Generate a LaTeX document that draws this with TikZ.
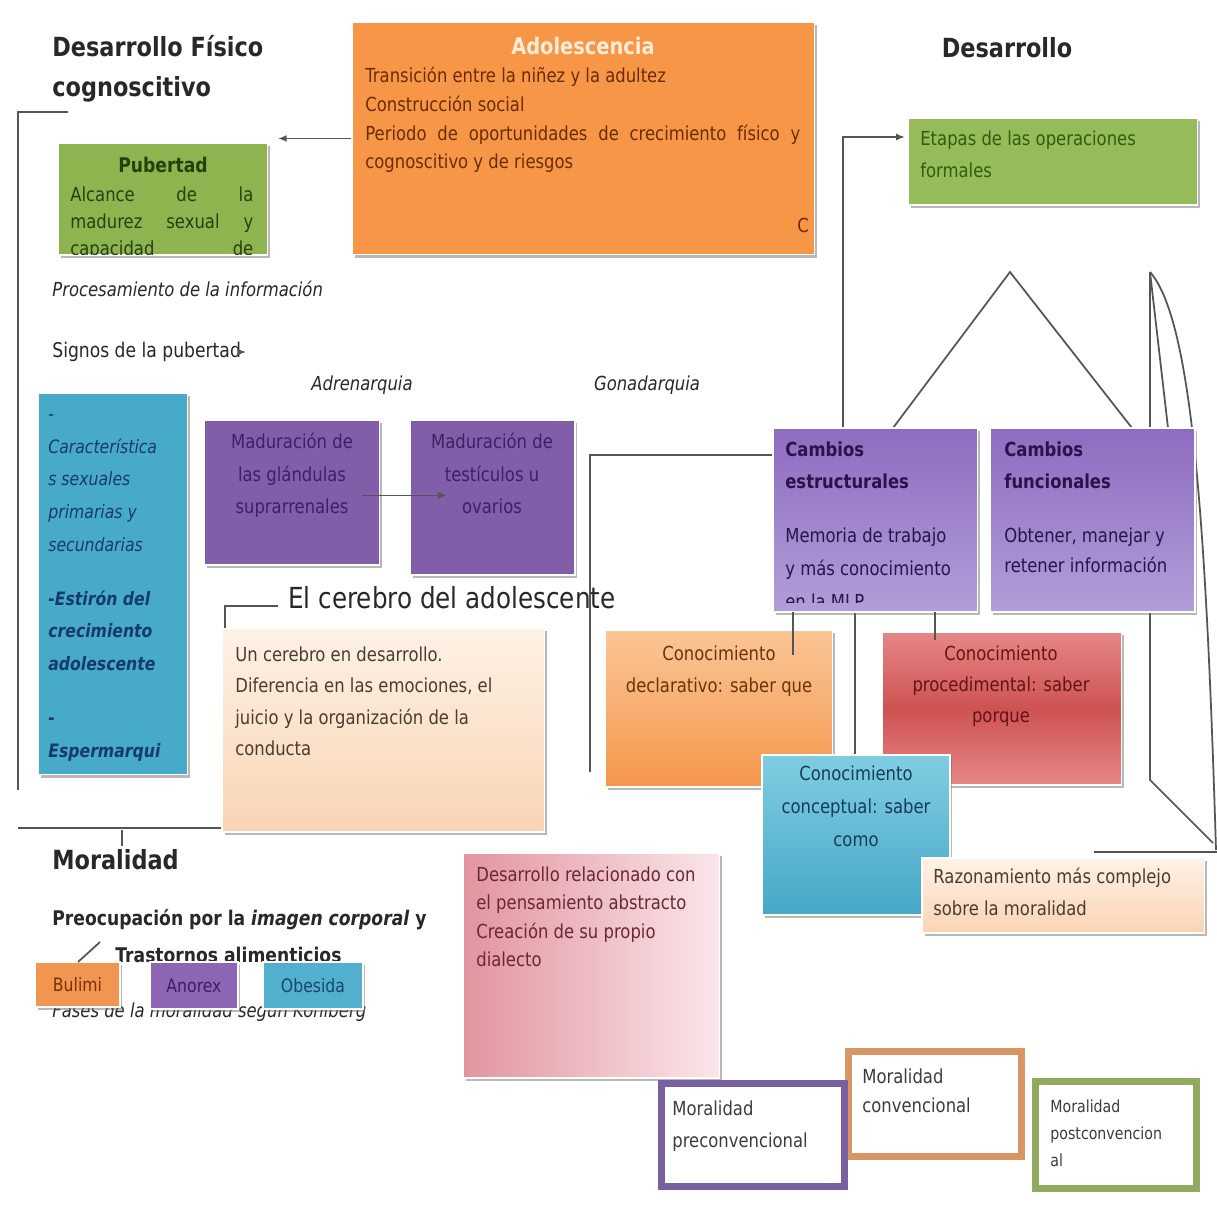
\documentclass[tikz,border=0pt]{standalone}
\usepackage{fontspec}
\setmainfont{DejaVu Sans}[FakeStretch=0.85]
\usetikzlibrary{shadows,arrows.meta,calc,backgrounds}
\definecolor{pubG}{RGB}{142,180,80}
\definecolor{pubT}{RGB}{35,65,10}
\definecolor{adoO}{RGB}{247,150,70}
\definecolor{adoT}{RGB}{105,45,0}
\definecolor{adoW}{RGB}{255,236,214}
\definecolor{etG}{RGB}{150,188,90}
\definecolor{etT}{RGB}{50,92,12}
\definecolor{tealB}{RGB}{70,170,200}
\definecolor{tealT}{RGB}{22,58,108}
\definecolor{madP}{RGB}{128,95,168}
\definecolor{madT}{RGB}{62,32,100}
\definecolor{camP1}{RGB}{140,108,192}
\definecolor{camP2}{RGB}{178,158,216}
\definecolor{camT}{RGB}{40,20,75}
\definecolor{decO1}{RGB}{250,198,150}
\definecolor{decO2}{RGB}{245,150,75}
\definecolor{decT}{RGB}{110,50,10}
\definecolor{procR1}{RGB}{230,135,135}
\definecolor{procR2}{RGB}{206,82,82}
\definecolor{procT}{RGB}{100,20,20}
\definecolor{conB1}{RGB}{128,205,226}
\definecolor{conB2}{RGB}{70,168,198}
\definecolor{conT}{RGB}{20,60,90}
\definecolor{peach1}{RGB}{254,242,230}
\definecolor{peach2}{RGB}{249,212,180}
\definecolor{peachT}{RGB}{75,60,50}
\definecolor{pink1}{RGB}{226,148,158}
\definecolor{pink2}{RGB}{250,230,234}
\definecolor{pinkT}{RGB}{105,40,50}
\definecolor{morP}{RGB}{120,95,160}
\definecolor{morO}{RGB}{215,150,100}
\definecolor{morG}{RGB}{145,170,95}
\definecolor{morT}{RGB}{60,60,60}
\definecolor{bulO}{RGB}{240,150,80}
\definecolor{anoP}{RGB}{140,102,180}
\definecolor{obeB}{RGB}{82,176,205}
\definecolor{lineG}{RGB}{85,85,85}
\definecolor{txtD}{RGB}{40,40,40}
\begin{document}
\begin{tikzpicture}[x=0.02cm,y=-0.02cm,
  bx/.style={rectangle, inner sep=0pt, outer sep=0pt, anchor=north west, draw=white, line width=0.6pt,
    drop shadow={shadow xshift=0.05cm, shadow yshift=-0.06cm, fill=black!55}},
  mor/.style={rectangle, inner sep=0pt, outer sep=0pt, anchor=north west, fill=white, line width=4pt,
    drop shadow={shadow xshift=0.05cm, shadow yshift=-0.06cm, fill=black!35}},
  tx/.style={inner sep=0pt, anchor=north west, align=left, font=\fontsize{11}{18}\selectfont},
  tc/.style={inner sep=0pt, anchor=north, align=center, font=\fontsize{11}{18}\selectfont},
  lbl/.style={inner sep=0pt, font=\fontsize{11}{13}\selectfont},
  ln/.style={draw=lineG, line width=1pt},
  arr/.style={ln, -{Latex[length=5pt,width=4pt]}}]
\useasboundingbox (0,0) rectangle (1217,1205);
\begin{scope}[on background layer]
\fill[white] (0,0) rectangle (1217,1205);
\end{scope}

% ---------- boxes ----------
\node[bx, fill=pubG, minimum width=4.2cm, minimum height=2.24cm] (pub) at (58,143) {};
\node[bx, fill=adoO, minimum width=9.26cm, minimum height=4.66cm] (ado) at (352,22) {};
\node[bx, fill=etG, minimum width=5.8cm, minimum height=1.74cm] (etapas) at (908,118) {};
\node[bx, fill=tealB, minimum width=3cm, minimum height=7.64cm] (teal) at (38,393) {};
\node[bx, fill=madP, minimum width=3.52cm, minimum height=2.9cm] (mad1) at (204,420) {};
\node[bx, fill=madP, minimum width=3.3cm, minimum height=3.1cm] (mad2) at (410,420) {};
\node[bx, top color=peach1, bottom color=peach2, minimum width=6.46cm, minimum height=4.08cm] (peach) at (222,628) {};
\node[bx, top color=camP1, bottom color=camP2, minimum width=4.1cm, minimum height=3.68cm] (cest) at (773,428) {};
\node[bx, top color=camP1, bottom color=camP2, minimum width=4.1cm, minimum height=3.68cm] (cfun) at (990,428) {};
\node[bx, top color=decO1, bottom color=decO2, minimum width=4.56cm, minimum height=3.14cm] (cdec) at (605,630) {};
\node[bx, top color=procR1, bottom color=procR1, middle color=procR2, minimum width=4.8cm, minimum height=3.06cm] (cproc) at (882,632) {};
\node[bx, top color=conB1, bottom color=conB2, minimum width=3.76cm, minimum height=3.2cm] (ccon) at (762,755) {};
\node[bx, top color=peach1, bottom color=peach2, minimum width=5.66cm, minimum height=1.5cm] (razon) at (922,858) {};
\node[bx, left color=pink1, right color=pink2, minimum width=5.14cm, minimum height=4.5cm] (pink) at (463,853) {};
\node[mor, draw=morO, minimum width=3.46cm, minimum height=2.1cm] (mcon) at (848.5,1051.5) {};
\node[mor, draw=morP, minimum width=3.66cm, minimum height=2.06cm] (mpre) at (661.5,1083.5) {};
\node[mor, draw=morG, minimum width=3.22cm, minimum height=2.14cm] (mpost) at (1035.5,1081.5) {};

% ---------- connectors (behind boxes) ----------
\begin{scope}[on background layer]
\coordinate (lb1) at (68,112);
\coordinate (lb2) at (18,790);
\draw[ln] (lb1) -- (18,112) -- (lb2);
\coordinate (ml1) at (18,828);
\draw[ln] (ml1) -- (ml1 -| peach.west);
\draw[ln] (122,830) -- (122,846);
\coordinate (pubtip) at ($(pub.north east)+(10,0)$);
\draw[arr] (ado.west) -- (ado.west -| pubtip);
\coordinate (ettip) at ($(etapas.north west)+(-3,19)$);
\draw[arr] ($(cest.north west)+(70,0)$) |- (ettip);
\coordinate (gl) at (590,772);
\draw[ln] (gl) |- ($(cest.north west)+(0,27)$);
\coordinate (apx) at (1010,272);
\draw[ln] ($(cest.north west)+(120,0)$) -- (apx) -- ($(cfun.north west)+(142,0)$);
\coordinate (apr) at (1150,272);
\coordinate (rb) at (1150,780);
\coordinate (re) at (1213,843);
\draw[ln] (apr) -- (rb) -- (re);
\draw[ln] (apr) -- ($(cfun.north west)+(178,0)$);
\coordinate (rc) at (1216,850);
\draw[ln] (apr) .. controls (1192,320) and (1206,520) .. (rc);
\draw[ln] ($(razon.north east)+(-111,-6)$) -- ($(razon.north east)+(12,-6)$);
\coordinate (c855) at ($(cest.south west)+(82,0)$);
\draw[ln] (c855) -- (c855 |- ccon.north);
\end{scope}

% ---------- texts ----------
\node[tx, font=\fontsize{15}{22.8}\selectfont\bfseries, text=txtD] (t1) at (52,35) {Desarrollo Físico\\cognoscitivo};
\node[lbl, font=\fontsize{15}{18}\selectfont\bfseries, text=txtD] (t2) at (1007,48) {Desarrollo};

\node[lbl, font=\fontsize{11.5}{14}\selectfont\bfseries, text=pubT] (pubt) at (163,165) {Pubertad};
\begin{scope}
\clip (pub.north west) rectangle (pub.south east);
\node[tx, font=\fontsize{11}{15.6}\selectfont, text=pubT] (pubx) at (70,186) {\makebox[3.66cm][s]{Alcance de la}\\\makebox[3.66cm][s]{madurez sexual y}\\\makebox[3.66cm][s]{capacidad de}};
\end{scope}

\node[lbl, font=\fontsize{13}{16}\selectfont\bfseries, text=adoW] (adot) at (583,46) {Adolescencia};
\node[tx, font=\fontsize{11}{16.3}\selectfont, text=adoT] (adox) at (365,67) {Transición entre la niñez y la adultez\\Construcción social\\\makebox[8.7cm][s]{Periodo de oportunidades de crecimiento físico y}\\cognoscitivo y de riesgos};
\begin{scope}
\clip (ado.north west) rectangle (ado.south east);
\node[lbl, anchor=west, text=adoT] (adoc) at (797,225) {C};
\end{scope}

\node[tx, font=\fontsize{11}{18.2}\selectfont, text=etT] (etx) at (920,130) {Etapas de las operaciones\\formales};

\node[lbl, anchor=west, font=\fontsize{11}{13}\selectfont\itshape, text=txtD] (proc) at (52,289) {Procesamiento de la información};
\node[lbl, anchor=west, font=\fontsize{11.5}{13}\selectfont, text=txtD] (signos) at (52,352) {Signos de la pubertad};
\draw[arr] ($(signos.east)+(-3,0)$) -- ($(signos.east)+(5,0)$);
\node[lbl, font=\fontsize{11}{13}\selectfont\itshape, text=txtD] (adren) at (362,385) {Adrenarquia};
\node[lbl, font=\fontsize{11}{13}\selectfont\itshape, text=txtD] (gonad) at (647,385) {Gonadarquia};

\node[tx, font=\fontsize{10.5}{18.6}\selectfont\itshape, text=tealT] (teal1) at (48,406) {\rule{0pt}{8pt}-\\Característica\\s sexuales\\primarias y\\secundarias};
\node[tx, font=\fontsize{10.5}{18.6}\selectfont\bfseries\itshape, text=tealT] (teal2) at (48,590) {-Estirón del\\crecimiento\\adolescente};
\node[tx, font=\fontsize{10.5}{19}\selectfont\bfseries\itshape, text=tealT] (teal3) at (48,710) {\rule{0pt}{8pt}-\\Espermarqui};

\node[tc, font=\fontsize{11}{18.5}\selectfont, text=madT] (mad1x) at (292,433) {Maduración de\\las glándulas\\suprarrenales};
\node[tc, font=\fontsize{11}{18.5}\selectfont, text=madT] (mad2x) at (492,433) {Maduración de\\testículos u\\ovarios};
\coordinate (madst) at ($(mad1.east)+(-18,3)$);
\draw[arr] (madst) -- (madst -| {$(mad2.west)+(37,0)$});

\node[lbl, anchor=west, font=\fontsize{16.5}{20}\selectfont, text=txtD] (cerebro) at (288,598) {El cerebro del adolescente};
\draw[ln] ($(cerebro.west)+(-10,8)$) -| ($(peach.north west)+(3,0)$);
\node[tx, font=\fontsize{11}{18}\selectfont, text=peachT] (peachx) at (235,646) {Un cerebro en desarrollo.\\Diferencia en las emociones, el\\juicio y la organización de la\\conducta};

\node[tx, font=\fontsize{11}{18.2}\selectfont\bfseries, text=camT] (cestt) at (785,441) {Cambios\\estructurales};
\begin{scope}
\clip (cest.north west) rectangle ($(cest.south east)+(0,-9)$);
\node[tx, font=\fontsize{11}{18.8}\selectfont, text=camT] (cestx) at (785,527) {Memoria de trabajo\\y más conocimiento\\en la MLP};
\end{scope}
\node[tx, font=\fontsize{11}{18.2}\selectfont\bfseries, text=camT] (cfunt) at (1004,441) {Cambios\\funcionales};
\node[tx, font=\fontsize{11}{17.5}\selectfont, text=camT] (cfunx) at (1004,527) {Obtener, manejar y\\retener información};

\node[tc, font=\fontsize{11}{18.2}\selectfont, text=decT] (cdecx) at (719,645) {Conocimiento\\declarativo: saber que};
\node[tc, font=\fontsize{11}{17.8}\selectfont, text=procT] (cprocx) at (1001,645) {Conocimiento\\procedimental: saber\\porque};
\draw[ln] ($(cest.south west)+(20,0)$) -- ++(0,43);
\draw[ln] ($(cest.south west)+(162,0)$) -- ++(0,28);
\node[tc, font=\fontsize{11}{19}\selectfont, text=conT] (cconx) at (856,765) {Conocimiento\\conceptual: saber\\como};
\node[tx, font=\fontsize{11}{18.2}\selectfont, text=peachT] (razonx) at (933,868) {Razonamiento más complejo\\sobre la moralidad};

\node[lbl, anchor=west, font=\fontsize{15}{18}\selectfont\bfseries, text=txtD] (moral) at (52,860) {Moralidad};
\node[lbl, anchor=west, font=\fontsize{11.5}{14}\selectfont\bfseries, text=txtD] (preoc) at (52,920) {Preocupación por la \textit{imagen corporal} y};
\node[lbl, anchor=west, font=\fontsize{11.5}{14}\selectfont\bfseries, text=txtD] (trast) at (115,955) {Trastornos alimenticios};
\node[lbl, anchor=west, font=\fontsize{11}{13}\selectfont\itshape, text=txtD] (fases) at (52,1012) {Fases de la moralidad según Kohlberg};

\node[bx, fill=bulO, minimum width=1.7cm, minimum height=0.9cm] (bul) at (35,962) {};
\node[bx, fill=anoP, minimum width=1.76cm, minimum height=0.94cm] (ano) at (150,962) {};
\node[bx, fill=obeB, minimum width=2cm, minimum height=0.94cm] (obe) at (263,962) {};
\node[lbl, font=\fontsize{10.5}{12}\selectfont, text={rgb,255:red,120;green,50;blue,0}] (bulx) at (bul.center) {Bulimi};
\node[lbl, font=\fontsize{10.5}{12}\selectfont, text={rgb,255:red,60;green,30;blue,100}] (anox) at (ano.center) {Anorex};
\node[lbl, font=\fontsize{10.5}{12}\selectfont, text={rgb,255:red,20;green,70;blue,110}] (obex) at (obe.center) {Obesida};
\draw[ln] ($(bul.north west)+(43,0)$) -- ++(22,-20);

\node[tx, font=\fontsize{11}{16.3}\selectfont, text=pinkT] (pinkx) at (476,866) {Desarrollo relacionado con\\el pensamiento abstracto\\Creación de su propio\\dialecto};

\node[tx, font=\fontsize{11}{18.2}\selectfont, text=morT] (mprex) at (672,1100) {Moralidad\\preconvencional};
\node[tx, font=\fontsize{11}{17}\selectfont, text=morT] (mconx) at (862,1068) {Moralidad\\convencional};
\node[tx, font=\fontsize{9.5}{15.4}\selectfont, text=morT] (mpostx) at (1050,1099) {Moralidad\\postconvencion\\al};
\end{tikzpicture}
\end{document}
